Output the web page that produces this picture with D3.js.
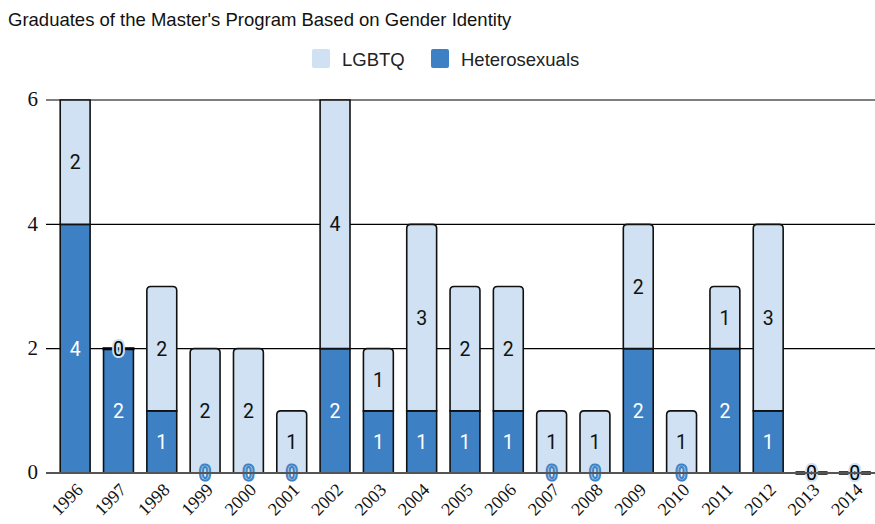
<!DOCTYPE html>
<html>
<head>
<meta charset="utf-8">
<script src="https://cdn.jsdelivr.net/npm/d3@7/dist/d3.min.js"></script>
<style>
    body { margin: 0; background: #fff; }
    svg { display: block; }
    .title { font-family: "Liberation Sans", Arial, sans-serif; font-size: 18.5px; fill: #111; }
    .legendText { font-family: "Liberation Sans", Arial, sans-serif; font-size: 18.5px; fill: #222; }
    .yLabel { font-family: "Liberation Serif", "Times New Roman", serif; font-size: 21px; fill: #111; }
    .xLabel { font-family: "Liberation Serif", "Times New Roman", serif; font-size: 18px; fill: #111; }
    .valLabel { font-family: Roboto, sans-serif; font-size: 19.5px; }
</style>
</head>
<body>
<div id="plotSect"></div>
<script>
/* global d3 */

// chart data //
let years = ["1996","1997","1998","1999","2000","2001","2002","2003","2004","2005",
    "2006","2007","2008","2009","2010","2011","2012","2013","2014"];
let hetero = [4,2,1,0,0,0,2,1,1,1,1,0,0,2,0,2,1,0,0];
let lgbtq = [2,0,2,2,2,1,4,1,3,2,2,1,1,2,1,1,3,0,0];
let yTicks = [0,2,4,6];
let seriesNames = ["LGBTQ", "Heterosexuals"];

let lightColor = "#cfe1f2",
    darkColor = "#3d81c4";

let SVGwidth = 875,
    SVGheight = 524;

let svg = d3.select("#plotSect").append("svg")
    .attr("width", SVGwidth)
    .attr("height", SVGheight);

let xScale = d3.scaleBand().domain(years).range([53.5, 876.5])
    .paddingInner(0.31).paddingOuter(0.155);
let yScale = d3.scaleLinear().domain([0, 6]).range([473, 100]);
let yMax = 6;

// title and legend //
svg.append("text")
    .attr("class", "title")
    .attr("x", 8)
    .attr("y", 26)
    .text("Graduates of the Master's Program Based on Gender Identity");

let legendX = [312, 431];
let legend = svg.selectAll(".legend")
    .data(seriesNames)
    .enter().append("g")
    .attr("class", "legend")
    .attr("transform", function(d, i) { return "translate(" + legendX[i] + ",49)"; });

legend.append("rect")
    .attr("width", 18)
    .attr("height", 19)
    .attr("rx", 2)
    .style("fill", function(d, i) { return i == 0 ? lightColor : darkColor; });

legend.append("text")
    .attr("class", "legendText")
    .attr("x", 30)
    .attr("y", 17)
    .text(function(d) { return d; });

// grid lines and y labels //
svg.selectAll(".grid")
    .data(yTicks.filter(function(d) { return d > 0; }))
    .enter().append("line")
    .attr("class", "grid")
    .attr("x1", 46).attr("x2", 875)
    .attr("y1", function(d) { return yScale(d); })
    .attr("y2", function(d) { return yScale(d); })
    .style("stroke", "#000")
    .style("stroke-width", 1.2);

svg.selectAll(".yLabel")
    .data(yTicks)
    .enter().append("text")
    .attr("class", "yLabel")
    .attr("x", 38)
    .attr("y", function(d) { return yScale(d); })
    .attr("dy", "0.3em")
    .style("text-anchor", "end")
    .text(function(d) { return d; });

// bars //
let rows = years.map(function(y, i) {
    return { year: y, het: hetero[i], lg: lgbtq[i] };
});
let bw = xScale.bandwidth();

function topRounded(x, y0, y1, w, r) {
    // path with rounded top corners, y0 top, y1 bottom
    return "M" + x + "," + y1 +
        "V" + (y0 + r) +
        "Q" + x + "," + y0 + " " + (x + r) + "," + y0 +
        "H" + (x + w - r) +
        "Q" + (x + w) + "," + y0 + " " + (x + w) + "," + (y0 + r) +
        "V" + y1 + "Z";
}

let bars = svg.selectAll(".bar")
    .data(rows)
    .enter().append("g")
    .attr("class", "bar");

// heterosexual segment
bars.filter(function(d) { return d.het > 0; })
    .append("rect")
    .attr("x", function(d) { return xScale(d.year); })
    .attr("y", function(d) { return yScale(d.het); })
    .attr("width", bw)
    .attr("height", function(d) { return yScale(0) - yScale(d.het); })
    .style("fill", darkColor)
    .style("stroke", "#111")
    .style("stroke-width", 1.6);

// lgbtq segment
bars.filter(function(d) { return d.lg > 0; })
    .append("path")
    .attr("d", function(d) {
        let top = yScale(d.het + d.lg);
        let r = (d.het + d.lg) >= yMax ? 0 : 4;
        return topRounded(xScale(d.year), top, yScale(d.het), bw, r);
    })
    .style("fill", lightColor)
    .style("stroke", "#111")
    .style("stroke-width", 1.6);

// zero-height lgbtq segment: a black line at the top
bars.filter(function(d) { return d.lg == 0; })
    .append("line")
    .attr("x1", function(d) { return xScale(d.year) - 1; })
    .attr("x2", function(d) { return xScale(d.year) + bw + 1; })
    .attr("y1", function(d) { return yScale(d.het); })
    .attr("y2", function(d) { return yScale(d.het); })
    .style("stroke", "#000")
    .style("stroke-width", 3);

// x axis line //
svg.append("line")
    .attr("x1", 46).attr("x2", 875)
    .attr("y1", yScale(0)).attr("y2", yScale(0))
    .style("stroke", "#555")
    .style("stroke-width", 2);

// redraw the zero-line for 2013/2014 over the axis
bars.filter(function(d) { return d.lg == 0 && d.het == 0; })
    .append("line")
    .attr("x1", function(d) { return xScale(d.year) - 1; })
    .attr("x2", function(d) { return xScale(d.year) + bw + 1; })
    .attr("y1", yScale(0))
    .attr("y2", yScale(0))
    .style("stroke", "#000")
    .style("stroke-width", 3);

// value labels //
function cx(d) { return xScale(d.year) + bw / 2; }

bars.filter(function(d) { return d.het > 0; })
    .append("text")
    .attr("class", "valLabel")
    .attr("x", cx)
    .attr("y", function(d) { return yScale(d.het / 2); })
    .attr("dy", "0.36em")
    .style("text-anchor", "middle")
    .style("fill", "#fff")
    .text(function(d) { return d.het; });

bars.filter(function(d) { return d.lg > 0; })
    .append("text")
    .attr("class", "valLabel")
    .attr("x", cx)
    .attr("y", function(d) { return yScale(d.het + d.lg / 2); })
    .attr("dy", "0.36em")
    .style("text-anchor", "middle")
    .style("fill", "#111")
    .text(function(d) { return d.lg; });

// zero labels for heterosexuals (only when lgbtq > 0)
bars.filter(function(d) { return d.het == 0 && d.lg > 0; })
    .append("text")
    .attr("class", "valLabel")
    .attr("x", cx)
    .attr("y", yScale(0))
    .attr("dy", "0.36em")
    .style("text-anchor", "middle")
    .style("fill", lightColor)
    .style("stroke", darkColor)
    .style("stroke-width", 3.2)
    .style("stroke-linejoin", "round")
    .style("paint-order", "stroke")
    .text("0");

bars.filter(function(d) { return d.het == 0 && d.lg > 0; })
    .append("text")
    .attr("class", "valLabel")
    .attr("x", cx)
    .attr("y", yScale(0))
    .attr("dy", "0.36em")
    .style("text-anchor", "middle")
    .style("fill", "none")
    .style("stroke", darkColor)
    .style("stroke-width", 0.9)
    .text("0");

// zero labels for lgbtq
bars.filter(function(d) { return d.lg == 0; })
    .append("text")
    .attr("class", "valLabel")
    .attr("x", cx)
    .attr("y", function(d) { return yScale(d.het); })
    .attr("dy", "0.36em")
    .style("text-anchor", "middle")
    .style("fill", "#000")
    .style("stroke", lightColor)
    .style("stroke-width", 4)
    .style("stroke-linejoin", "round")
    .style("paint-order", "stroke")
    .text("0");

// x labels //
svg.selectAll(".xLabel")
    .data(years)
    .enter().append("text")
    .attr("class", "xLabel")
    .attr("transform", function(d) {
        return "translate(" + (xScale(d) + bw / 2 + 9) + ",491) rotate(-45)";
    })
    .style("text-anchor", "end")
    .text(function(d) { return d; });
</script>
</body>
</html>
